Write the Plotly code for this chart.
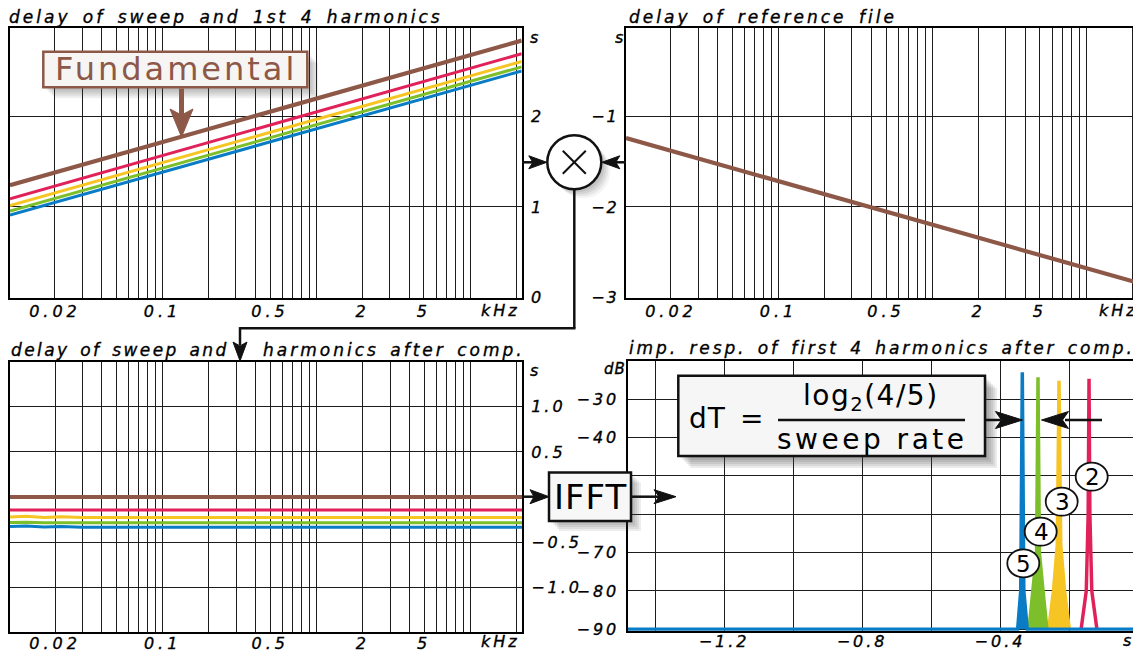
import math
import plotly.graph_objects as go

# page body has an 8 px margin: the figure is sized so it fills the window
OFF = 8
W, H = 1141 - OFF, 651 - OFF

# ---------------- data ----------------
sweep_freq_khz = [0.0102, 21.6]
delay_fundamental_s = [1.24, 2.835]
delay_h2_s = [1.09, 2.69]
delay_h3_s = [1.015, 2.605]
delay_h4_s = [0.955, 2.545]
delay_h5_s = [0.91, 2.50]

reference_delay_s = [-1.24, -2.835]

comp_freq_khz = [0.0102, 0.013, 0.017, 0.022, 0.03, 21.6]
comp_fundamental_s = [0.0, 0.0, 0.0, 0.0, 0.0, 0.0]
comp_h2_s = [-0.143, -0.143, -0.143, -0.143, -0.143, -0.143]
comp_h3_s = [-0.221, -0.214, -0.226, -0.219, -0.228, -0.228]
comp_h4_s = [-0.283, -0.279, -0.285, -0.282, -0.285, -0.285]
comp_h5_s = [-0.328, -0.321, -0.333, -0.326, -0.334, -0.334]

ir_h2_t = [-0.165, -0.150, -0.1445, -0.142, -0.1395, -0.134, -0.119]
ir_h2_db = [-90, -80, -60, -24.7, -60, -80, -90]
ir_h3_t = [-0.259, -0.245, -0.234, -0.229, -0.224, -0.213, -0.199]
ir_h3_db = [-90, -80, -68, -25.2, -68, -80, -90]
ir_h4_t = [-0.316, -0.3045, -0.294, -0.2899, -0.2858, -0.2753, -0.264]
ir_h4_db = [-90, -80, -70, -24.3, -70, -80, -90]
ir_h5_t = [-1.48, -0.349, -0.340, -0.3354, -0.331, -0.321, 0.0]
ir_h5_db = [-90, -90, -80, -23.0, -80, -90, -90]

freq_grid_khz = [0.02, 0.03, 0.04, 0.05, 0.06, 0.07, 0.08, 0.09, 0.1,
                 0.2, 0.3, 0.4, 0.5, 0.6, 0.7, 0.8, 0.9, 1,
                 2, 3, 4, 5, 6, 7, 8, 9, 10, 20]
freq_grid_text = ["0.02", " ", " ", " ", " ", " ", " ", " ", "0.1",
                  " ", " ", " ", "0.5", " ", " ", " ", " ", " ",
                  "2", " ", " ", "5", " ", " ", " ", " ", " ", " "]
delay_ticks = [0, 1, 2]
delay_tick_text = ["0", "1", "2"]
ref_ticks = [-3, -2, -1]
ref_tick_text = ["−3", "−2", "−1"]
comp_ticks = [-1.0, -0.5, 0.0, 0.5, 1.0]
comp_tick_text = ["−1.0", "−0.5", " ", "0.5", "1.0"]
ir_time_ticks = [-1.4, -1.2, -1.0, -0.8, -0.6, -0.4, -0.2]
ir_time_text = [" ", "−1.2", " ", "−0.8", " ", "−0.4", " "]
ir_db_ticks = [-90, -80, -70, -60, -50, -40, -30]
ir_db_text = ["−90", "−80", "−70", " ", " ", "−40", "−30"]

BROWN = "#8d5848"
RED = "#e0215a"
YELLOW = "#f6c524"
GREEN = "#7cbf2a"
BLUE = "#0a7cc5"
GRID = "#1c1c1c"

FONT = "DejaVu Sans"


def sp(t, ls=4, ws=0, stroke=0.35, color="#000"):
    if t.strip() == "":
        return t
    st = f"letter-spacing:{ls}px;word-spacing:{ws}px"
    if stroke:
        st += f";stroke:{color};stroke-width:{stroke}px"
    return f'<span style="{st}">{t}</span>'


def X(x):
    return (x - OFF) / W


def Y(y):
    return 1 - (y - OFF) / H


def dom_x(a, b):
    return [X(a), X(b)]


def dom_y(top, bottom):
    return [Y(bottom), Y(top)]


fig = go.Figure()

# top-left: delay of sweep and harmonics
for ys, c, w in [(delay_h5_s, BLUE, 3), (delay_h4_s, GREEN, 3), (delay_h3_s, YELLOW, 3),
                 (delay_h2_s, RED, 3), (delay_fundamental_s, BROWN, 4.2)]:
    fig.add_trace(go.Scatter(x=sweep_freq_khz, y=ys, mode="lines", line=dict(color=c, width=w),
                             xaxis="x", yaxis="y", showlegend=False, hoverinfo="skip"))

# top-right: reference delay
fig.add_trace(go.Scatter(x=sweep_freq_khz, y=reference_delay_s, mode="lines",
                         line=dict(color=BROWN, width=4.2), xaxis="x2", yaxis="y2",
                         showlegend=False, hoverinfo="skip"))

# bottom-left: after compensation
for ys, c, w in [(comp_h5_s, BLUE, 3), (comp_h4_s, GREEN, 3), (comp_h3_s, YELLOW, 3),
                 (comp_h2_s, RED, 3), (comp_fundamental_s, BROWN, 4.2)]:
    fig.add_trace(go.Scatter(x=comp_freq_khz, y=ys, mode="lines", line=dict(color=c, width=w),
                             xaxis="x3", yaxis="y3", showlegend=False, hoverinfo="skip"))

# bottom-right: impulse responses
fig.add_trace(go.Scatter(x=ir_h2_t, y=ir_h2_db, mode="lines", line=dict(color=RED, width=3.5),
                         xaxis="x4", yaxis="y4", showlegend=False, hoverinfo="skip"))
for xs, ys, c in [(ir_h3_t, ir_h3_db, YELLOW), (ir_h4_t, ir_h4_db, GREEN), (ir_h5_t, ir_h5_db, BLUE)]:
    fig.add_trace(go.Scatter(x=xs, y=ys, mode="lines", fill="toself", fillcolor=c,
                             line=dict(color=c, width=3.5), xaxis="x4", yaxis="y4",
                             showlegend=False, hoverinfo="skip"))

tickfont = dict(family=FONT, size=16, style="italic", color="black")
frame = dict(showline=True, mirror=True, linecolor="black", linewidth=2, zeroline=False,
             showgrid=True, gridcolor=GRID, gridwidth=1.3, ticks="", tickfont=tickfont,
             automargin=False, tickangle=0, fixedrange=True)

logrange = [math.log10(sweep_freq_khz[0]), math.log10(sweep_freq_khz[1])]
ftext = [sp(t) for t in freq_grid_text]

fig.update_layout(
    width=W, height=H, autosize=False,
    margin=dict(l=0, r=0, t=0, b=0, pad=0, autoexpand=False),
    paper_bgcolor="white", plot_bgcolor="white",
    xaxis=dict(type="log", range=logrange, domain=dom_x(10, 521.7), anchor="y",
               tickvals=freq_grid_khz, ticktext=ftext, ticklabelstandoff=-2, **frame),
    yaxis=dict(range=[0, 2.97], domain=dom_y(28.3, 297.7), anchor="x", side="right",
               tickvals=delay_ticks, ticktext=[sp(t) for t in delay_tick_text],
               ticklabelstandoff=4, **frame),
    xaxis2=dict(type="log", range=logrange, domain=dom_x(626, 1137.7), anchor="y2",
                tickvals=freq_grid_khz, ticktext=ftext, ticklabelstandoff=-2, **frame),
    yaxis2=dict(range=[-3, -0.03], domain=dom_y(28.3, 297.7), anchor="x2", side="left",
                tickvals=ref_ticks, ticktext=[sp(t, 2) for t in ref_tick_text],
                ticklabelstandoff=2, **frame),
    xaxis3=dict(type="log", range=logrange, domain=dom_x(10, 522), anchor="y3",
                tickvals=freq_grid_khz, ticktext=ftext, ticklabelstandoff=-5, **frame),
    yaxis3=dict(range=[-1.5, 1.5], domain=dom_y(361.7, 632.3), anchor="x3", side="right",
                tickvals=comp_ticks, ticktext=[sp(t, 3) for t in comp_tick_text],
                ticklabelstandoff=4, **frame),
    xaxis4=dict(range=[-1.48, 0.0], domain=dom_x(627.5, 1138), anchor="y4",
                tickvals=ir_time_ticks, ticktext=[sp(t, 3) for t in ir_time_text],
                ticklabelstandoff=-5, layer="below traces", **frame),
    yaxis4=dict(range=[-90.35, -20], domain=dom_y(360.7, 630.7), anchor="x4", side="left",
                tickvals=ir_db_ticks, ticktext=[sp(t, 3) for t in ir_db_text],
                ticklabelstandoff=3, **frame),
)

# ---------------- decorations (pixel helpers) ----------------
shapes = []
annotations = []


def rect(x0, y0, x1, y1, color="black", width=2.5, fill="rgba(0,0,0,0)"):
    shapes.append(dict(type="rect", xref="paper", yref="paper", x0=X(x0), x1=X(x1),
                       y0=Y(y1), y1=Y(y0), line=dict(color=color, width=width),
                       fillcolor=fill, layer="above"))


def shadow(x0, y0, x1, y1, offs=(3, 5, 7, 9, 11), alpha=0.09):
    for k in offs:
        shapes.append(dict(type="rect", xref="paper", yref="paper", x0=X(x0 + k), x1=X(x1 + k),
                           y0=Y(y1 + k), y1=Y(y0 + k), line=dict(width=0),
                           fillcolor=f"rgba(60,60,60,{alpha})", layer="above"))


def seg(x0, y0, x1, y1, color="#111", width=2.5):
    shapes.append(dict(type="line", xref="paper", yref="paper", x0=X(x0), y0=Y(y0),
                       x1=X(x1), y1=Y(y1), line=dict(color=color, width=width), layer="above"))


def head(tx, ty, dx, dy, L=17, hw=6.5, notch=4, color="#111"):
    bx, by = tx - dx * L, ty - dy * L
    nx, ny = -dy, dx
    p1 = (bx + nx * hw, by + ny * hw)
    p2 = (bx - nx * hw, by - ny * hw)
    pn = (tx - dx * (L - notch), ty - dy * (L - notch))
    path = (f"M {X(tx)},{Y(ty)} L {X(p1[0])},{Y(p1[1])} L {X(pn[0])},{Y(pn[1])} "
            f"L {X(p2[0])},{Y(p2[1])} Z")
    shapes.append(dict(type="path", xref="paper", yref="paper", path=path,
                       fillcolor=color, line=dict(color=color, width=1), layer="above"))


def ellipse(cx, cy, rx, ry, color="black", width=2, fill="white"):
    shapes.append(dict(type="circle", xref="paper", yref="paper", x0=X(cx - rx), x1=X(cx + rx),
                       y0=Y(cy + ry), y1=Y(cy - ry), line=dict(color=color, width=width),
                       fillcolor=fill, layer="above"))


def text(t, x, y, size=16, xanchor="left", italic=True, color="black", ls=2, ws=0, stroke=0.35):
    annotations.append(dict(text=sp(t, ls, ws, stroke, color), x=X(x), y=Y(y),
                            xref="paper", yref="paper",
                            xanchor=xanchor, yanchor="middle", showarrow=False,
                            font=dict(family=FONT, size=size, color=color,
                                      style="italic" if italic else "normal")))


# titles
text("delay of sweep and 1st 4 harmonics", 7, 17, 17, ls=3, ws=4)
text("delay of reference file", 627, 17, 17, ls=3, ws=4)
text("delay of sweep and", 9, 350, 17, ls=2.4, ws=3)
text("harmonics after comp.", 261, 350, 17, ls=3, ws=3)
text("imp. resp. of first 4 harmonics after comp.", 627, 348, 17, ls=2.9, ws=3)

# unit labels
text("s", 528, 37, 16)
text("s", 627, 37, 16, xanchor="right")
text("s", 528, 370, 16)
text("dB", 628, 369, 15, xanchor="right", ls=1)
text("kHz", 500, 310, 16, xanchor="center", ls=3)
text("kHz", 1118, 310, 16, xanchor="center", ls=3)
text("kHz", 500, 641, 16, xanchor="center", ls=3)
text("s", 1128, 640, 16, xanchor="center")

# Fundamental callout
shadow(43.3, 51.7, 307.3, 87.3, offs=(3, 5, 7, 9, 11), alpha=0.08)
rect(43.3, 51.7, 307.3, 87.3, color=BROWN, width=2.5, fill="#f7f5f4")
text("Fundamental", 176, 69.5, 32, xanchor="center", italic=False, color=BROWN, ls=3, stroke=0)
seg(181.5, 88.5, 181.5, 116, color=BROWN, width=5)
head(181.5, 137, 0, 1, L=28, hw=11.5, notch=6, color=BROWN)

# multiply node
cx, cy, r = 574.3, 162.3, 27
for k, a in [(3, 0.10), (5, 0.10), (7, 0.08), (9, 0.06)]:
    ellipse(cx + k, cy + k, r, r, color="rgba(0,0,0,0)", width=0, fill=f"rgba(60,60,60,{a})")
ellipse(cx, cy, r, r, color="#111", width=2.5, fill="white")
seg(cx - 11.5, cy - 11.5, cx + 11.5, cy + 11.5, width=2)
seg(cx - 11.5, cy + 11.5, cx + 11.5, cy - 11.5, width=2)
seg(522, cy, 535, cy)
head(cx - r - 0.5, cy, 1, 0, L=18, hw=6.5, notch=4)
seg(626, cy, 612, cy)
head(cx + r + 0.5, cy, -1, 0, L=18, hw=6.5, notch=4)

# connector to the compensated plot
seg(cx, cy + r, cx, 328.3)
seg(cx + 1.2, 328.3, 240, 328.3)
seg(240, 327.1, 240, 345)
head(240, 361, 0, 1, L=19, hw=7, notch=4)

# IFFT block
seg(522, 496.7, 535, 496.7)
head(549, 496.7, 1, 0, L=19, hw=7, notch=4)
shadow(549, 472.5, 631, 521, offs=(2, 4, 6, 8, 10), alpha=0.09)
rect(549, 472.5, 631, 521, color="#111", width=2.5, fill="#f7f7f7")
text("IFFT", 590.5, 497, 34, xanchor="center", italic=False, ls=1, stroke=0)
seg(632, 496.7, 660, 496.7)
head(676, 496.7, 1, 0, L=22, hw=7, notch=5)

# dT formula box
shadow(678.3, 375.7, 985, 456, offs=(2, 4, 6, 8, 10, 12), alpha=0.1)
rect(678.3, 375.7, 985, 456, color="#111", width=2.5, fill="#f6f6f6")
text("dT", 707, 418, 28, xanchor="center", italic=False, ls=1, stroke=0)
text("=", 751, 418, 28, xanchor="center", italic=False, ls=0, stroke=0)
text("log<sub>2</sub>(4/5)", 871, 397, 28, xanchor="center", italic=False, ls=1.5, stroke=0)
seg(778, 420, 965, 420, width=2.5)
text("sweep rate", 872, 439, 28, xanchor="center", italic=False, ls=3.5, stroke=0)
seg(985, 420, 1000, 420)
head(1022.5, 420, 1, 0, L=27, hw=8.5, notch=6)
seg(1102, 420, 1065, 420)
head(1041.5, 420, -1, 0, L=27, hw=8.5, notch=6)

# harmonic number badges
for lab, bx, by in [("2", 1091.7, 476.7), ("3", 1061.7, 501.7), ("4", 1040.7, 531.7), ("5", 1023.3, 563.3)]:
    ellipse(bx, by, 16, 14, color="#111", width=1.8, fill="white")
    text(lab, bx + 0.5, by + 0.5, 23, xanchor="center", italic=False, ls=0, stroke=0)

fig.update_layout(shapes=shapes, annotations=annotations)
fig.write_html("out.html")
